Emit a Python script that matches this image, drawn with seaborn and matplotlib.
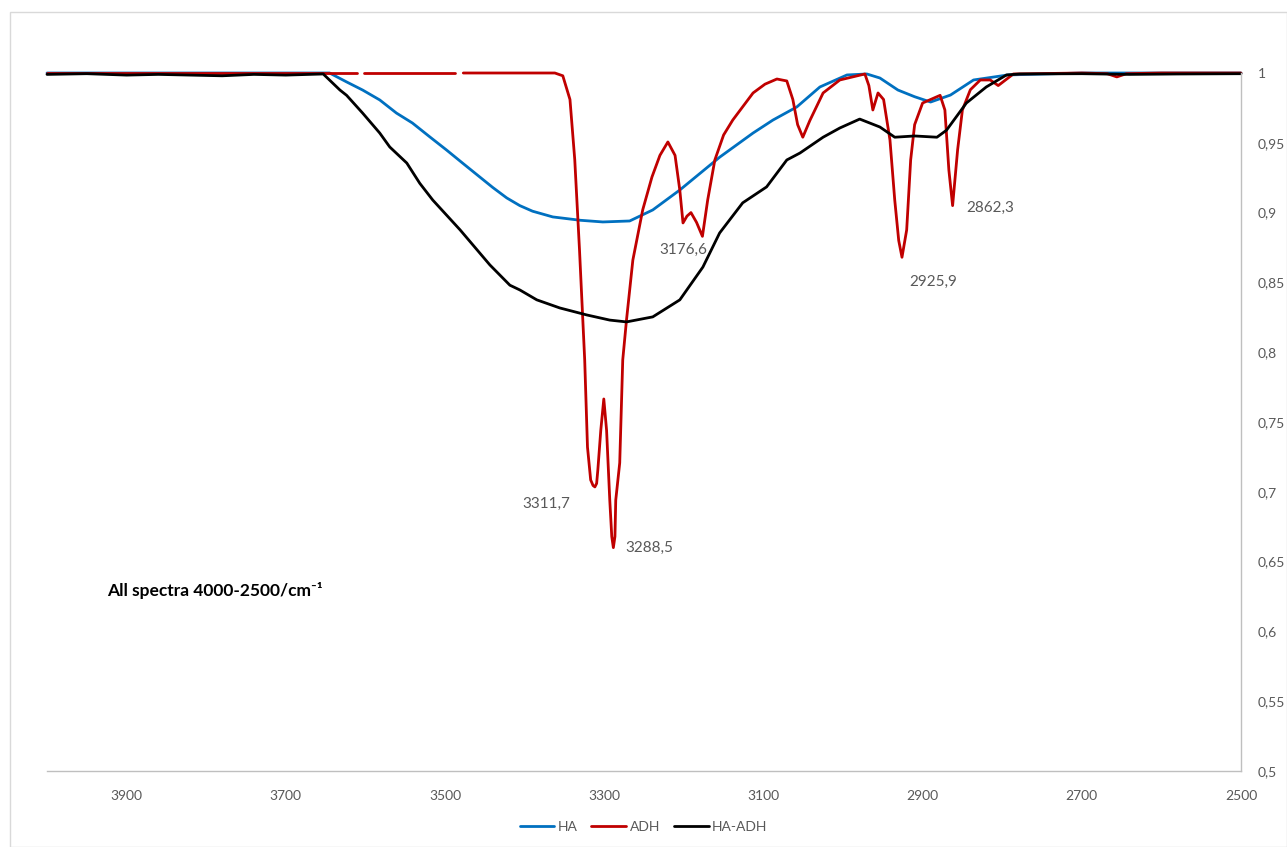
import numpy as np
import pandas as pd
import matplotlib
matplotlib.use("Agg")
import matplotlib.pyplot as plt
import seaborn as sns
from matplotlib.patches import Rectangle
from matplotlib.ticker import FixedLocator, FuncFormatter

# ---- spectra (wavenumber / cm^-1, transmittance) ----
ha_wn = [4000, 3900, 3800, 3700, 3645, 3623.6, 3603.5, 3582, 3561, 3541, 3519,
         3498, 3478, 3456.3, 3440, 3422.4, 3406, 3390, 3364.6, 3330, 3301.7, 3268, 3239,
         3205, 3154.7, 3113, 3088, 3058, 3029, 2995, 2970, 2953.6, 2931, 2910,
         2890, 2865, 2836, 2793, 2700, 2600, 2500]
ha_val = [1.0, 1.0, 1.0, 1.0, 1.0, 0.9936, 0.9878, 0.9807, 0.9713, 0.9642, 0.9542,
          0.9448, 0.9355, 0.9255, 0.918, 0.9105, 0.9050, 0.9010, 0.8969, 0.8945, 0.8933, 0.894, 0.9019,
          0.9162, 0.9398, 0.957, 0.9663, 0.9757, 0.99, 0.9986, 0.9993, 0.9964, 0.9878, 0.983,
          0.9792, 0.9842, 0.995, 0.9986, 1.0, 1.0, 1.0]

# ADH: NaN entries mark dropouts in the recorded trace
adh_wn = [4000, 3800, 3650, 3610, 3609, 3603, 3602, 3500, 3488, 3487, 3478, 3477,
          3400, 3362, 3352, 3343, 3337, 3331, 3324.5, 3321, 3317, 3314, 3311.7, 3309.5, 3308, 3304.3,
          3300.5, 3297, 3293, 3290.5, 3288.5, 3286.5, 3285.5, 3280.5, 3276.7, 3272, 3264, 3251.6,
          3240, 3230, 3220, 3211, 3205, 3201, 3196, 3191, 3184, 3176.6, 3170, 3161,
          3150, 3138.5, 3113, 3098, 3083, 3070.6, 3063, 3057, 3050.5, 3041.6, 3025,
          3004, 2972.5, 2967.5, 2962.5, 2956, 2949, 2941, 2935, 2930, 2925.9, 2920,
          2915, 2910, 2900, 2878, 2872, 2867, 2862.3, 2856, 2850, 2840, 2827.5,
          2815, 2805, 2786, 2700, 2668, 2656, 2644, 2600, 2500]
adh_val = [1.0, 1.0, 1.0, 1.0, np.nan, np.nan, 1.0, 1.0, 1.0, np.nan, np.nan, 1.0,
           1.0, 1.0, 0.998, 0.981, 0.938, 0.873, 0.7945, 0.732, 0.7085, 0.7045, 0.7035, 0.7060, 0.7156, 0.744,
           0.7665, 0.744, 0.694, 0.668, 0.660, 0.668, 0.694, 0.7207, 0.7945, 0.823, 0.866, 0.902,
           0.9255, 0.941, 0.9506, 0.941, 0.916, 0.8926, 0.8975, 0.900, 0.893, 0.883, 0.909, 0.9377,
           0.9556, 0.9663, 0.9857, 0.992, 0.9957, 0.9943, 0.981, 0.963, 0.954, 0.966, 0.9857,
           0.995, 0.9993, 0.991, 0.9735, 0.9857, 0.981, 0.952, 0.909, 0.880, 0.868, 0.8876,
           0.9377, 0.963, 0.9785, 0.984, 0.9735, 0.9305, 0.905, 0.945, 0.9735, 0.988, 0.995,
           0.995, 0.991, 0.9993, 1.0, 0.9995, 0.9972, 0.9995, 1.0, 1.0]

mix_wn = [4000, 3950, 3900, 3860, 3820, 3780, 3740, 3700, 3653, 3632, 3623.6, 3603.5,
          3582, 3569.4, 3548, 3531.7, 3515.4, 3481, 3443.6, 3418.5, 3406, 3384.7,
          3355.8, 3322, 3293, 3272, 3239, 3205, 3176, 3155, 3126, 3096, 3070.6,
          3054, 3025, 3004, 2979, 2953.6, 2935, 2910, 2882, 2870, 2845, 2820,
          2794.6, 2778, 2700, 2640, 2580, 2500]
mix_val = [0.999, 0.9995, 0.9985, 0.999, 0.9985, 0.998, 0.999, 0.9985, 0.9993, 0.9878, 0.984, 0.9713,
           0.957, 0.947, 0.9355, 0.921, 0.909, 0.8876, 0.8625, 0.848, 0.8446, 0.8375,
           0.8317, 0.8267, 0.823, 0.8217, 0.8253, 0.8375, 0.861, 0.8854, 0.907, 0.9184, 0.9377,
           0.9427, 0.954, 0.9606, 0.967, 0.9613, 0.954, 0.9549, 0.954, 0.959, 0.9785, 0.99,
           0.9986, 0.9993, 0.9995, 0.999, 0.9993, 0.9995]

peak_wn = [3311.7, 3288.5, 3176.6, 2925.9, 2862.3]
peak_val = [0.7035, 0.660, 0.883, 0.868, 0.905]
peak_text = ["3311,7", "3288,5", "3176,6", "2925,9", "2862,3"]

series_names = ["HA", "ADH", "HA-ADH"]
series_colors = ["#0070C0", "#C00000", "#000000"]


def segments(wn, val, name):
    """Split a trace at NaN dropouts so each piece is drawn on its own."""
    rows, seg = [], 0
    for w, v in zip(wn, val):
        if np.isnan(v):
            seg += 1
            continue
        rows.append((w, v, name, f"{name}-{seg}"))
    return rows


rows = (segments(ha_wn, ha_val, "HA") + segments(adh_wn, adh_val, "ADH")
        + segments(mix_wn, mix_val, "HA-ADH"))
df = pd.DataFrame(rows, columns=["wn", "T", "sample", "seg"])

sns.set_theme(style="white")
plt.rcParams["font.family"] = ["Lato", "DejaVu Sans"]

fig = plt.figure(figsize=(12.87, 8.47), dpi=100)
fig.patches.append(Rectangle((10 / 1287, 0), 1 - 10 / 1287, 1 - 12 / 847,
                             transform=fig.transFigure, fill=False,
                             edgecolor="#D9D9D9", linewidth=1.0))
ax = fig.add_axes([47 / 1287, 1 - 771 / 847, (1241 - 47) / 1287, (771 - 73) / 847])

sns.lineplot(data=df, x="wn", y="T", hue="sample", units="seg", estimator=None,
             sort=False, palette=dict(zip(series_names, series_colors)),
             hue_order=series_names, linewidth=2.0, ax=ax, legend=False)
for ln in ax.lines:
    ln.set_clip_on(False)
    ln.set_solid_joinstyle("round")

ax.set_xlim(4000, 2500)
ax.set_ylim(0.5, 1.0)
ax.xaxis.set_major_locator(FixedLocator([3900, 3700, 3500, 3300, 3100, 2900, 2700, 2500]))
ax.yaxis.set_major_locator(FixedLocator(np.arange(0.5, 1.0001, 0.05)))
ax.yaxis.set_major_formatter(FuncFormatter(lambda v, p: f"{v:.2f}".rstrip("0").rstrip(".").replace(".", ",")))
ax.yaxis.tick_right()
ax.tick_params(axis="both", length=0, labelsize=10, labelcolor="#595959")
ax.tick_params(axis="x", pad=14)
ax.tick_params(axis="y", pad=12)
for lab in ax.get_yticklabels():
    lab.set_horizontalalignment("left")
ax.set_xlabel("")
ax.set_ylabel("")
for side in ["top", "left"]:
    ax.spines[side].set_visible(False)
for side in ["right", "bottom"]:
    ax.spines[side].set_color("#BFBFBF")
    ax.spines[side].set_linewidth(1.0)

# peak labels
offsets = [(-52, -12), (9, 0), (-31, -9.5), (5, -18), (10, -1.5)]
for w, v, t, (dx, dy) in zip(peak_wn, peak_val, peak_text, offsets):
    ax.annotate(t, xy=(w, v), xytext=(dx, dy), textcoords="offset points",
                fontsize=11, color="#595959", ha="left", va="center")

ax.text(3924, 0.6296, "All spectra 4000-2500/cm\u207b\u00b9", fontsize=12.5,
        fontweight="bold", color="black", ha="left", va="center")

handles = [plt.Line2D([], [], color=c, linewidth=2.0) for c in series_colors]
fig.legend(handles, series_names, loc="center", bbox_to_anchor=(0.5, 1 - 827 / 847),
           ncol=3, frameon=False, fontsize=10, labelcolor="#595959",
           handlelength=2.5, handletextpad=0.25, columnspacing=1.0)

fig.savefig("out.png", dpi=100)
